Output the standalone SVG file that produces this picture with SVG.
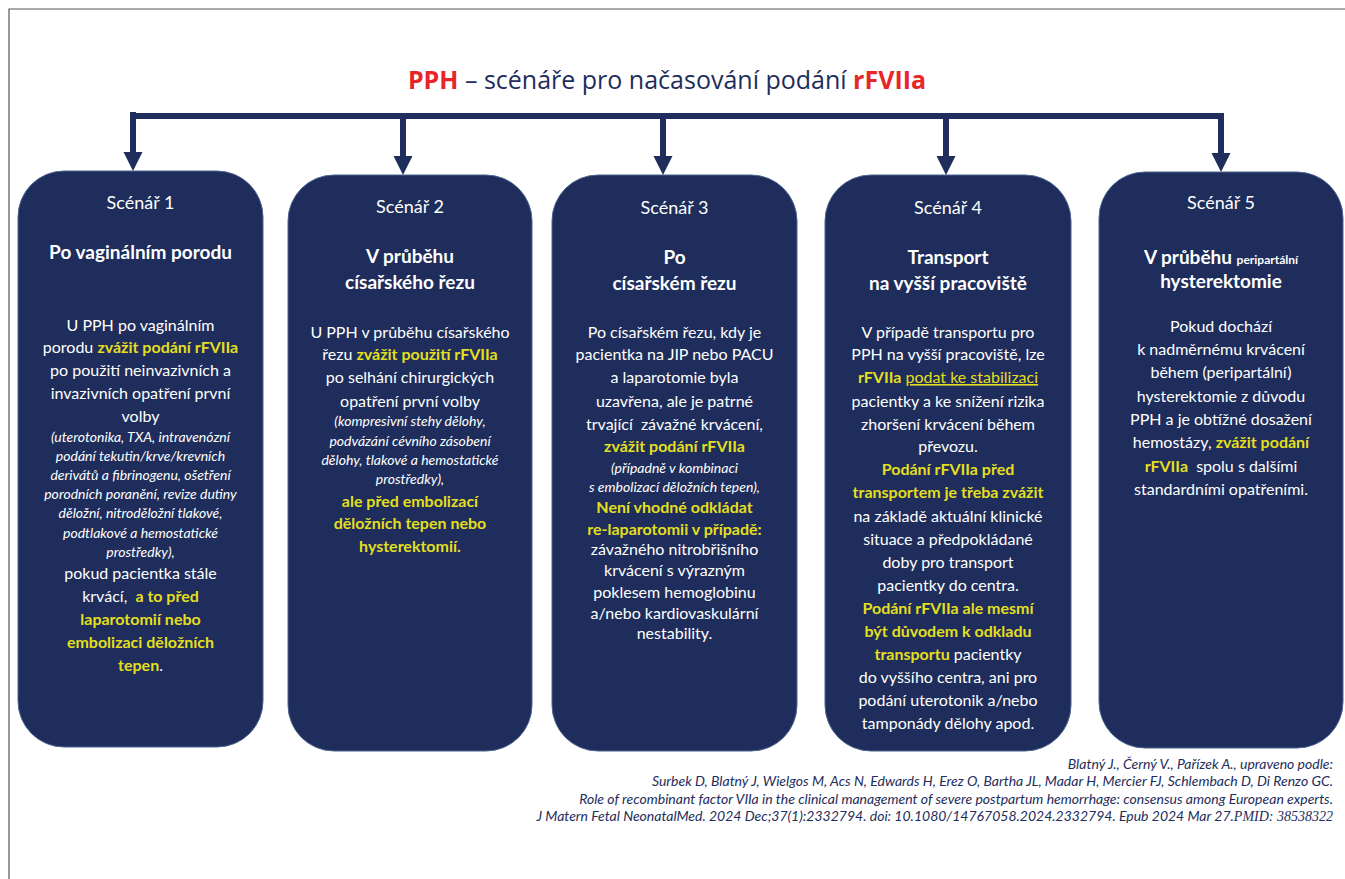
<svg xmlns="http://www.w3.org/2000/svg" width="1345" height="879" viewBox="0 0 1345 879">
<style>
.bg{fill:#ffffff}
.frame{fill:none;stroke:#555555;stroke-width:1.2}
.card{fill:#1e2d5b;stroke:#4d6590;stroke-width:1}
.conn{fill:#1e2d5b}
.t{font-family:Lato,"Liberation Sans",sans-serif;fill:#ffffff;text-anchor:middle}
.sc{font-size:18px}
.h{font-size:19px;font-weight:700}
.b{font-size:16px}
.i{font-size:14px;font-style:italic}
.y{fill:#e3df1f;font-weight:700}
.yr{fill:#e3df1f}
.sm{font-size:12px;font-weight:700}
.title{font-family:"Open Sans","Liberation Sans",sans-serif;font-size:25px;fill:#1e2d5b;text-anchor:middle}
.red{fill:#e8262a;font-weight:700}
.cit{font-family:Lato,"Liberation Sans",sans-serif;font-size:14px;font-style:italic;fill:#1e2d5b;text-anchor:end}
.serif{font-family:"Liberation Serif",serif}
</style>
<rect class="bg" x="0" y="0" width="1345" height="879"/>
<path class="frame" d="M9,879 L9,9 L1345,9"/>

<text class="title" x="667" y="89"><tspan class="red">PPH</tspan> – scénáře pro načasování podání <tspan class="red">rFVIIa</tspan></text>

<g id="connectors">
  <rect class="conn" x="130" y="113" width="1094" height="6"/>
  <rect class="conn" x="130" y="112" width="6" height="42"/>
  <polygon class="conn" points="123.5,152 142.5,152 133,171"/>
  <rect class="conn" x="400" y="113" width="6" height="45"/>
  <polygon class="conn" points="393.5,156 412.5,156 403,175"/>
  <rect class="conn" x="660" y="113" width="6" height="45"/>
  <polygon class="conn" points="653.5,156 672.5,156 663,175"/>
  <rect class="conn" x="943" y="113" width="6" height="45"/>
  <polygon class="conn" points="936.5,156 955.5,156 946,175"/>
  <rect class="conn" x="1218" y="113" width="6" height="42"/>
  <polygon class="conn" points="1211.5,153 1230.5,153 1221,172"/>
</g>

<g id="scenar1">
  <rect class="card" x="18" y="171" width="245" height="576" rx="46" ry="46"/>
  <text class="t sc" x="140.5" y="209">Scénář 1</text>
  <text class="t h" x="140.5" y="259">Po vaginálním porodu</text>
  <text class="t b" x="140.5" y="331">U PPH po vaginálním</text>
  <text class="t b" x="140.5" y="353">porodu <tspan class="y">zvážit podání rFVIIa</tspan></text>
  <text class="t b" x="140.5" y="376">po použití neinvazivních a</text>
  <text class="t b" x="140.5" y="399">invazivních opatření první</text>
  <text class="t b" x="140.5" y="422">volby</text>
  <text class="t i" x="140.5" y="442">(uterotonika, TXA, intravenózní</text>
  <text class="t i" x="140.5" y="461">podání tekutin/krve/krevních</text>
  <text class="t i" x="140.5" y="480">derivátů a fibrinogenu, ošetření</text>
  <text class="t i" x="140.5" y="499">porodních poranění, revize dutiny</text>
  <text class="t i" x="140.5" y="518">děložní, nitroděložní tlakové,</text>
  <text class="t i" x="140.5" y="538">podtlakové a hemostatické</text>
  <text class="t i" x="140.5" y="557">prostředky),</text>
  <text class="t b" x="140.5" y="579">pokud pacientka stále</text>
  <text class="t b" x="140.5" y="602">krvácí, <tspan class="y" dx="4">a to před</tspan></text>
  <text class="t b" x="140.5" y="625"><tspan class="y">laparotomií nebo</tspan></text>
  <text class="t b" x="140.5" y="648"><tspan class="y">embolizaci děložních</tspan></text>
  <text class="t b" x="140.5" y="671"><tspan class="y">tepen</tspan>.</text>
</g>

<g id="scenar2">
  <rect class="card" x="288" y="175" width="244" height="576" rx="46" ry="46"/>
  <text class="t sc" x="410" y="213">Scénář 2</text>
  <text class="t h" x="410" y="263">V průběhu</text>
  <text class="t h" x="410" y="289">císařského řezu</text>
  <text class="t b" x="410" y="338">U PPH v průběhu císařského</text>
  <text class="t b" x="410" y="360">řezu <tspan class="y">zvážit použití rFVIIa</tspan></text>
  <text class="t b" x="410" y="383">po selhání chirurgických</text>
  <text class="t b" x="410" y="407">opatření první volby</text>
  <text class="t i" x="410" y="426">(kompresivní stehy dělohy,</text>
  <text class="t i" x="410" y="446">podvázání cévního zásobení</text>
  <text class="t i" x="410" y="465">dělohy, tlakové a hemostatické</text>
  <text class="t i" x="410" y="484">prostředky),</text>
  <text class="t b" x="410" y="507"><tspan class="y">ale před embolizací</tspan></text>
  <text class="t b" x="410" y="529"><tspan class="y">děložních tepen nebo</tspan></text>
  <text class="t b" x="410" y="552"><tspan class="y">hysterektomií.</tspan></text>
</g>

<g id="scenar3">
  <rect class="card" x="552" y="175" width="245" height="576" rx="46" ry="46"/>
  <text class="t sc" x="674.5" y="214">Scénář 3</text>
  <text class="t h" x="674.5" y="264">Po</text>
  <text class="t h" x="674.5" y="290">císařském řezu</text>
  <text class="t b" x="674.5" y="338">Po císařském řezu, kdy je</text>
  <text class="t b" x="674.5" y="360">pacientka na JIP nebo PACU</text>
  <text class="t b" x="674.5" y="383">a laparotomie byla</text>
  <text class="t b" x="674.5" y="407">uzavřena, ale je patrné</text>
  <text class="t b" x="674.5" y="430">trvající <tspan dx="4">závažné krvácení,</tspan></text>
  <text class="t b" x="674.5" y="452"><tspan class="y">zvážit podání rFVIIa</tspan></text>
  <text class="t i" x="674.5" y="473">(případně v kombinaci</text>
  <text class="t i" x="674.5" y="492">s embolizací děložních tepen),</text>
  <text class="t b" x="674.5" y="513"><tspan class="y">Není vhodné odkládat</tspan></text>
  <text class="t b" x="674.5" y="535"><tspan class="y">re-laparotomii v případě:</tspan></text>
  <text class="t b" x="674.5" y="555">závažného nitrobřišního</text>
  <text class="t b" x="674.5" y="576">krvácení s výrazným</text>
  <text class="t b" x="674.5" y="598">poklesem hemoglobinu</text>
  <text class="t b" x="674.5" y="619">a/nebo kardiovaskulární</text>
  <text class="t b" x="674.5" y="639">nestability.</text>
</g>

<g id="scenar4">
  <rect class="card" x="825" y="175" width="246" height="576" rx="46" ry="46"/>
  <text class="t sc" x="948" y="214">Scénář 4</text>
  <text class="t h" x="948" y="264">Transport</text>
  <text class="t h" x="948" y="290">na vyšší pracoviště</text>
  <text class="t b" x="948" y="338">V případě transportu pro</text>
  <text class="t b" x="948" y="360">PPH na vyšší pracoviště, lze</text>
  <text class="t b" x="948" y="383"><tspan class="y">rFVIIa</tspan> <tspan class="yr" text-decoration="underline">podat ke stabilizaci</tspan></text>
  <text class="t b" x="948" y="407">pacientky a ke snížení rizika</text>
  <text class="t b" x="948" y="430">zhoršení krvácení během</text>
  <text class="t b" x="948" y="452">převozu.</text>
  <text class="t b" x="948" y="475"><tspan class="y">Podání rFVIIa před</tspan></text>
  <text class="t b" x="948" y="498"><tspan class="y">transportem je třeba zvážit</tspan></text>
  <text class="t b" x="948" y="522">na základě aktuální klinické</text>
  <text class="t b" x="948" y="545">situace a předpokládané</text>
  <text class="t b" x="948" y="568">doby pro transport</text>
  <text class="t b" x="948" y="591">pacientky do centra.</text>
  <text class="t b" x="948" y="614"><tspan class="y">Podání rFVIIa ale mesmí</tspan></text>
  <text class="t b" x="948" y="637"><tspan class="y">být důvodem k odkladu</tspan></text>
  <text class="t b" x="948" y="660"><tspan class="y">transportu</tspan> pacientky</text>
  <text class="t b" x="948" y="683">do vyššího centra, ani pro</text>
  <text class="t b" x="948" y="706">podání uterotonik a/nebo</text>
  <text class="t b" x="948" y="729">tamponády dělohy apod.</text>
</g>

<g id="scenar5">
  <rect class="card" x="1099" y="172" width="244" height="576" rx="46" ry="46"/>
  <text class="t sc" x="1221" y="209">Scénář 5</text>
  <text class="t h" x="1221" y="264">V průběhu <tspan class="sm">peripartální</tspan></text>
  <text class="t h" x="1221" y="288">hysterektomie</text>
  <text class="t b" x="1221" y="332">Pokud dochází</text>
  <text class="t b" x="1221" y="355">k nadměrnému krvácení</text>
  <text class="t b" x="1221" y="378">během (peripartální)</text>
  <text class="t b" x="1221" y="402">hysterektomie z důvodu</text>
  <text class="t b" x="1221" y="425">PPH a je obtížné dosažení</text>
  <text class="t b" x="1221" y="448">hemostázy, <tspan class="y">zvážit podání</tspan></text>
  <text class="t b" x="1221" y="472"><tspan class="y">rFVIIa</tspan><tspan dx="4"> spolu s dalšími</tspan></text>
  <text class="t b" x="1221" y="495">standardními opatřeními.</text>
</g>

<g id="citation">
  <text class="cit" x="1333" y="769">Blatný J., Černý V., Pařízek A., upraveno podle:</text>
  <text class="cit" x="1333" y="786">Surbek D, Blatný J, Wielgos M, Acs N, Edwards H, Erez O, Bartha JL, Madar H, Mercier FJ, Schlembach D, Di Renzo GC.</text>
  <text class="cit" x="1333" y="804">Role of recombinant factor VIIa in the clinical management of severe postpartum hemorrhage: consensus among European experts.</text>
  <text class="cit" x="1333" y="821">J Matern Fetal NeonatalMed. 2024 Dec;37(1):2332794. doi: 10.1080/14767058.2024.2332794. Epub 2024 Mar 27.<tspan class="serif">PMID: 38538322</tspan></text>
</g>
</svg>
